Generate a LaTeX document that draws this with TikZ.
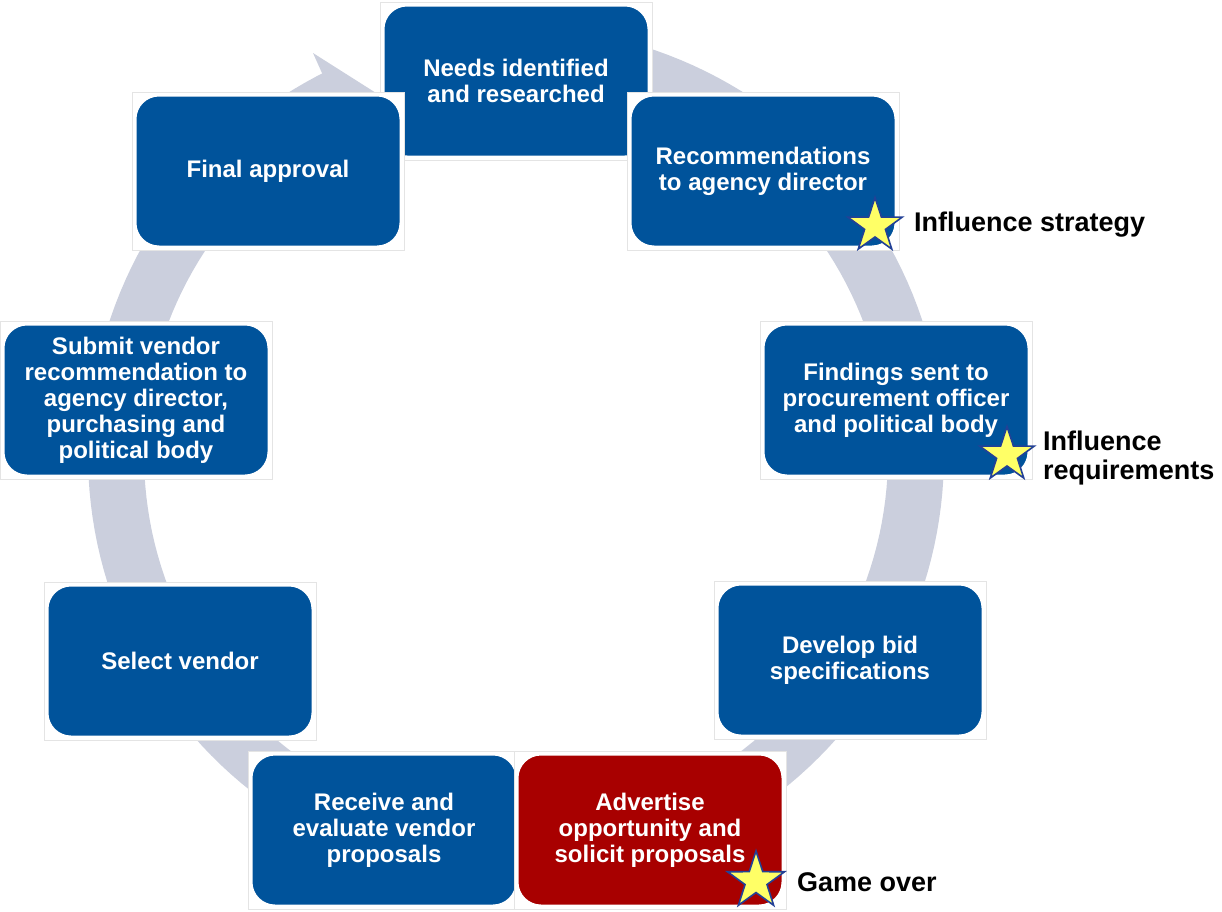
\documentclass[tikz,border=0pt]{standalone}
\usepackage{fontspec}
\setmainfont{Liberation Sans}
\usetikzlibrary{shapes.geometric}
\definecolor{boxblue}{RGB}{0,83,155}
\definecolor{boxred}{RGB}{168,0,0}
\definecolor{ringgrey}{RGB}{203,207,221}
\definecolor{staryellow}{RGB}{255,255,102}
\definecolor{starblue}{RGB}{35,65,150}
\definecolor{rectline}{RGB}{228,228,228}
\tikzset{
 procbox/.style={rounded corners=24pt, fill=boxblue, draw=white, line width=3pt,
   minimum width=266pt, minimum height=152pt, inner sep=0pt, text=white,
   font=\bfseries\fontsize{24}{26}\selectfont, align=center},
 backrect/.style={fill=white, draw=rectline, line width=0.8pt},
 starmark/.style={star, star points=5, star point ratio=2.6, fill=staryellow,
   draw=starblue, line width=1.6pt, inner sep=0pt},
 lbl/.style={font=\bfseries\fontsize{27}{29}\selectfont, text=black, align=left, inner sep=0pt}
}
\newcommand{\pbox}[5]{%
 \draw[backrect, shift={(#2,#3)}] (-136,-79) rectangle (136,79);
 \node[procbox, fill=#4] (#1) at (#2,#3) {#5};
}
\begin{document}
\begin{tikzpicture}[x=1pt,y=-1pt]
\useasboundingbox (0,0) rectangle (1222,911);
% circular arrow behind the boxes
\draw[ringgrey, line width=56pt] plot[domain=-80:244, samples=180] ({516+400*cos(\x)},{455+400*sin(\x)});
\fill[ringgrey] (313,53) -- (395,105) -- (352,140) -- cycle;
% process boxes
\pbox{needs}{516}{81}{boxblue}{Needs identified\\and researched}
\pbox{rec}{763}{171}{boxblue}{Recommendations\\to agency director}
\pbox{find}{896}{400}{boxblue}{Findings sent to\\procurement officer\\and political body}
\pbox{dev}{850}{660}{boxblue}{Develop bid\\specifications}
\pbox{recv}{384}{830}{boxblue}{Receive and\\evaluate vendor\\proposals}
\pbox{adv}{650}{830}{boxred}{Advertise\\opportunity and\\solicit proposals}
\pbox{sel}{180}{661}{boxblue}{Select vendor}
\pbox{sub}{136}{400}{boxblue}{Submit vendor\\recommendation to\\agency director,\\purchasing and\\political body}
\pbox{fin}{268}{171}{boxblue}{Final approval}
% stars
\node[starmark, minimum size=57pt] (s1) at (875,226) {};
\node[starmark, minimum size=57pt] (s2) at (1007,455) {};
\node[starmark, minimum size=60pt] (s3) at (756,881) {};
% labels
\node[lbl, anchor=base west] (l1) at (914,231) {Influence strategy};
\node[lbl, anchor=base west] (l2) at (1043,479) {Influence\\requirements};
\node[lbl, anchor=base west] (l3) at (797,891) {Game over};
\end{tikzpicture}
\end{document}
